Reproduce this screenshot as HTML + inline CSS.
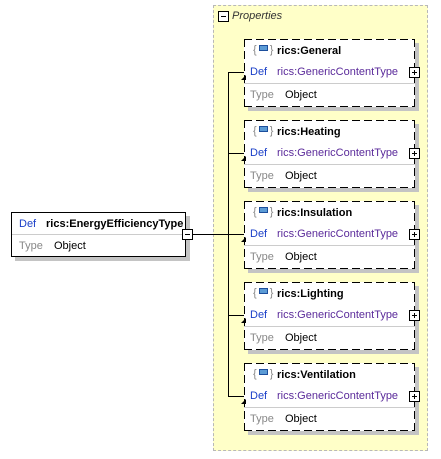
<!DOCTYPE html>
<html><head><style>
body{margin:0;width:441px;height:459px;background:#fff;position:relative;font-family:"Liberation Sans",sans-serif;overflow:hidden}
.a{position:absolute}
.cont{left:213px;top:5px;width:215px;height:446px;background:#ffffc8;border:1px dashed #b8b8b8;box-sizing:border-box}
.pm{position:absolute;width:9px;height:9px;border:1px solid #000;background:#fff}
.pm:before{content:"";position:absolute;left:2px;top:4px;width:5px;height:1px;background:#000}
.pl:after{content:"";position:absolute;left:4px;top:2px;width:1px;height:5px;background:#000}
.box{position:absolute;width:171px;height:68px;background:#fff;box-shadow:4px 4px 0 #c4c4c4;font-size:11px}
.box .bd{position:absolute;inset:0;
background:
repeating-linear-gradient(90deg,#000 0 8px,transparent 8px 12px) top/100% 1px no-repeat,
repeating-linear-gradient(90deg,#000 0 8px,transparent 8px 12px) bottom/100% 1px no-repeat,
repeating-linear-gradient(0deg,#000 0 8px,transparent 8px 12px) left/1px 100% no-repeat,
repeating-linear-gradient(0deg,#000 0 8px,transparent 8px 12px) right/1px 100% no-repeat}
.box .n{position:absolute;left:33px;top:6px;font-weight:bold;color:#000}
.box .ic{position:absolute;left:9px;top:5px;color:#888;font-size:11px}
.box .ic i{display:inline-block;width:7px;height:4px;background:#5b9bd5;border:1px solid #1c4e9c;vertical-align:2px;margin:0 2px}
.box .d{position:absolute;left:6px;top:27px;color:#1a3fc8}
.box .t{position:absolute;left:33px;top:27px;color:#5a2a9a}
.box .sep{position:absolute;left:0;right:0;top:44px;height:1px;background:#ccc}
.box .ty{position:absolute;left:6px;top:50px;color:#888}
.box .o{position:absolute;left:41px;top:50px;color:#000}
.ln{position:absolute;background:#000}
.arr{position:absolute;width:0;height:0;border-left:5px solid transparent;border-bottom:5px solid #000}
</style></head><body>
<div class="a cont"></div>
<div class="pm" style="left:218px;top:11px"></div>
<div class="a" style="left:232px;top:10px;font-style:italic;font-size:11px;color:#333">Properties</div>

<div class="ln" style="left:228px;top:72px;width:1px;height:325px"></div>
<div class="ln" style="left:193px;top:234px;width:36px;height:1px"></div>

<div class="a" style="left:11px;top:212px;width:175px;height:45px;border:1px solid #000;box-sizing:border-box;background:#fff;box-shadow:4px 4px 0 #c4c4c4;font-size:11px">
<div class="a" style="left:7px;top:5px;color:#1a3fc8">Def</div>
<div class="a" style="left:34px;top:5px;font-weight:bold">rics:EnergyEfficiencyType</div>
<div class="a" style="left:0;right:0;top:21px;height:1px;background:#ccc"></div>
<div class="a" style="left:7px;top:27px;color:#888">Type</div>
<div class="a" style="left:42px;top:27px">Object</div>
</div>
<div class="pm" style="left:182px;top:229px"></div>

<div class="ln" style="left:228px;top:72px;width:16px;height:1px"></div>
<div class="box" style="left:244px;top:39px"><div class="bd"></div><span class="ic">{<i></i>}</span><span class="n">rics:General</span><span class="d">Def</span><span class="t">rics:GenericContentType</span><div class="sep"></div><span class="ty">Type</span><span class="o">Object</span></div>
<div class="arr" style="left:241px;top:75px"></div>
<div class="pm pl" style="left:409px;top:67px"></div>

<div class="ln" style="left:228px;top:153px;width:16px;height:1px"></div>
<div class="box" style="left:244px;top:120px"><div class="bd"></div><span class="ic">{<i></i>}</span><span class="n">rics:Heating</span><span class="d">Def</span><span class="t">rics:GenericContentType</span><div class="sep"></div><span class="ty">Type</span><span class="o">Object</span></div>
<div class="arr" style="left:241px;top:156px"></div>
<div class="pm pl" style="left:409px;top:148px"></div>

<div class="ln" style="left:228px;top:234px;width:16px;height:1px"></div>
<div class="box" style="left:244px;top:201px"><div class="bd"></div><span class="ic">{<i></i>}</span><span class="n">rics:Insulation</span><span class="d">Def</span><span class="t">rics:GenericContentType</span><div class="sep"></div><span class="ty">Type</span><span class="o">Object</span></div>
<div class="arr" style="left:241px;top:237px"></div>
<div class="pm pl" style="left:409px;top:229px"></div>

<div class="ln" style="left:228px;top:315px;width:16px;height:1px"></div>
<div class="box" style="left:244px;top:282px"><div class="bd"></div><span class="ic">{<i></i>}</span><span class="n">rics:Lighting</span><span class="d">Def</span><span class="t">rics:GenericContentType</span><div class="sep"></div><span class="ty">Type</span><span class="o">Object</span></div>
<div class="arr" style="left:241px;top:318px"></div>
<div class="pm pl" style="left:409px;top:310px"></div>

<div class="ln" style="left:228px;top:396px;width:16px;height:1px"></div>
<div class="box" style="left:244px;top:363px"><div class="bd"></div><span class="ic">{<i></i>}</span><span class="n">rics:Ventilation</span><span class="d">Def</span><span class="t">rics:GenericContentType</span><div class="sep"></div><span class="ty">Type</span><span class="o">Object</span></div>
<div class="arr" style="left:241px;top:399px"></div>
<div class="pm pl" style="left:409px;top:391px"></div>
</body></html>
